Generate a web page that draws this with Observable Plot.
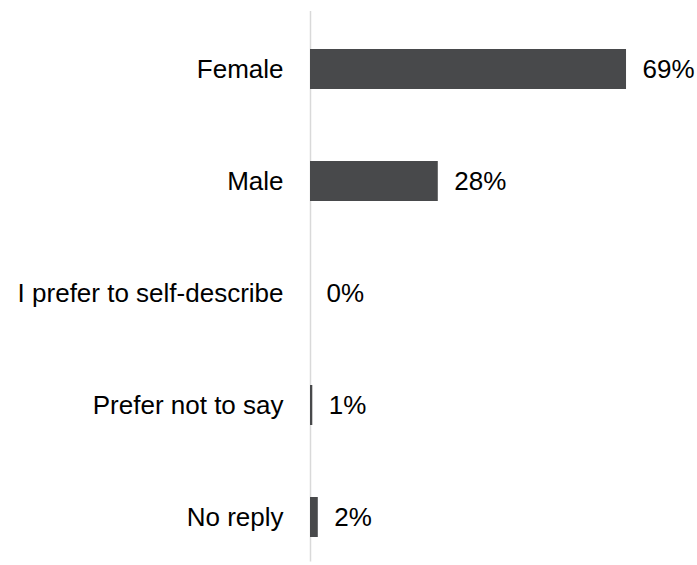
<!DOCTYPE html>
<html>
<head>
<meta charset="utf-8">
<script src="https://cdn.jsdelivr.net/npm/d3@7"></script>
<script src="https://cdn.jsdelivr.net/npm/@observablehq/plot@0.6"></script>
<style>
  html, body { margin: 0; padding: 0; background: #fff; }
  svg { font-family: "Liberation Sans", Arial, sans-serif; }
</style>
</head>
<body>
<div id="chart"></div>
<script>
const categories = ["Female", "Male", "I prefer to self-describe", "Prefer not to say", "No reply"];
const values = [69, 27.9, 0, 0.5, 1.7];
const valueLabels = ["69%", "28%", "0%", "1%", "2%"];

const data = categories.map((c, i) => ({category: c, value: values[i], label: valueLabels[i]}));

const chart = Plot.plot({
  width: 697,
  height: 565,
  marginLeft: 310,
  marginRight: 20.6,
  marginTop: 48,
  marginBottom: 27.6,
  style: {fontFamily: "'Liberation Sans', Arial, sans-serif", fontSize: "26px", color: "#000", background: "#fff"},
  x: {domain: [0, 80], axis: null},
  y: {domain: categories, paddingInner: 0.644, paddingOuter: 0, label: null, tickSize: 0, tickPadding: 27},
  marks: [
    Plot.ruleX([0], {stroke: "#d9d9d9", strokeWidth: 1.5, insetTop: -37, insetBottom: -24}),
    Plot.barX(data, {x: "value", y: "category", fill: "#48494b"}),
    Plot.text(data, {x: "value", y: "category", text: "label", textAnchor: "start", dx: 16, fontSize: 26, fill: "#000"})
  ]
});
document.getElementById("chart").appendChild(chart);
</script>
</body>
</html>
